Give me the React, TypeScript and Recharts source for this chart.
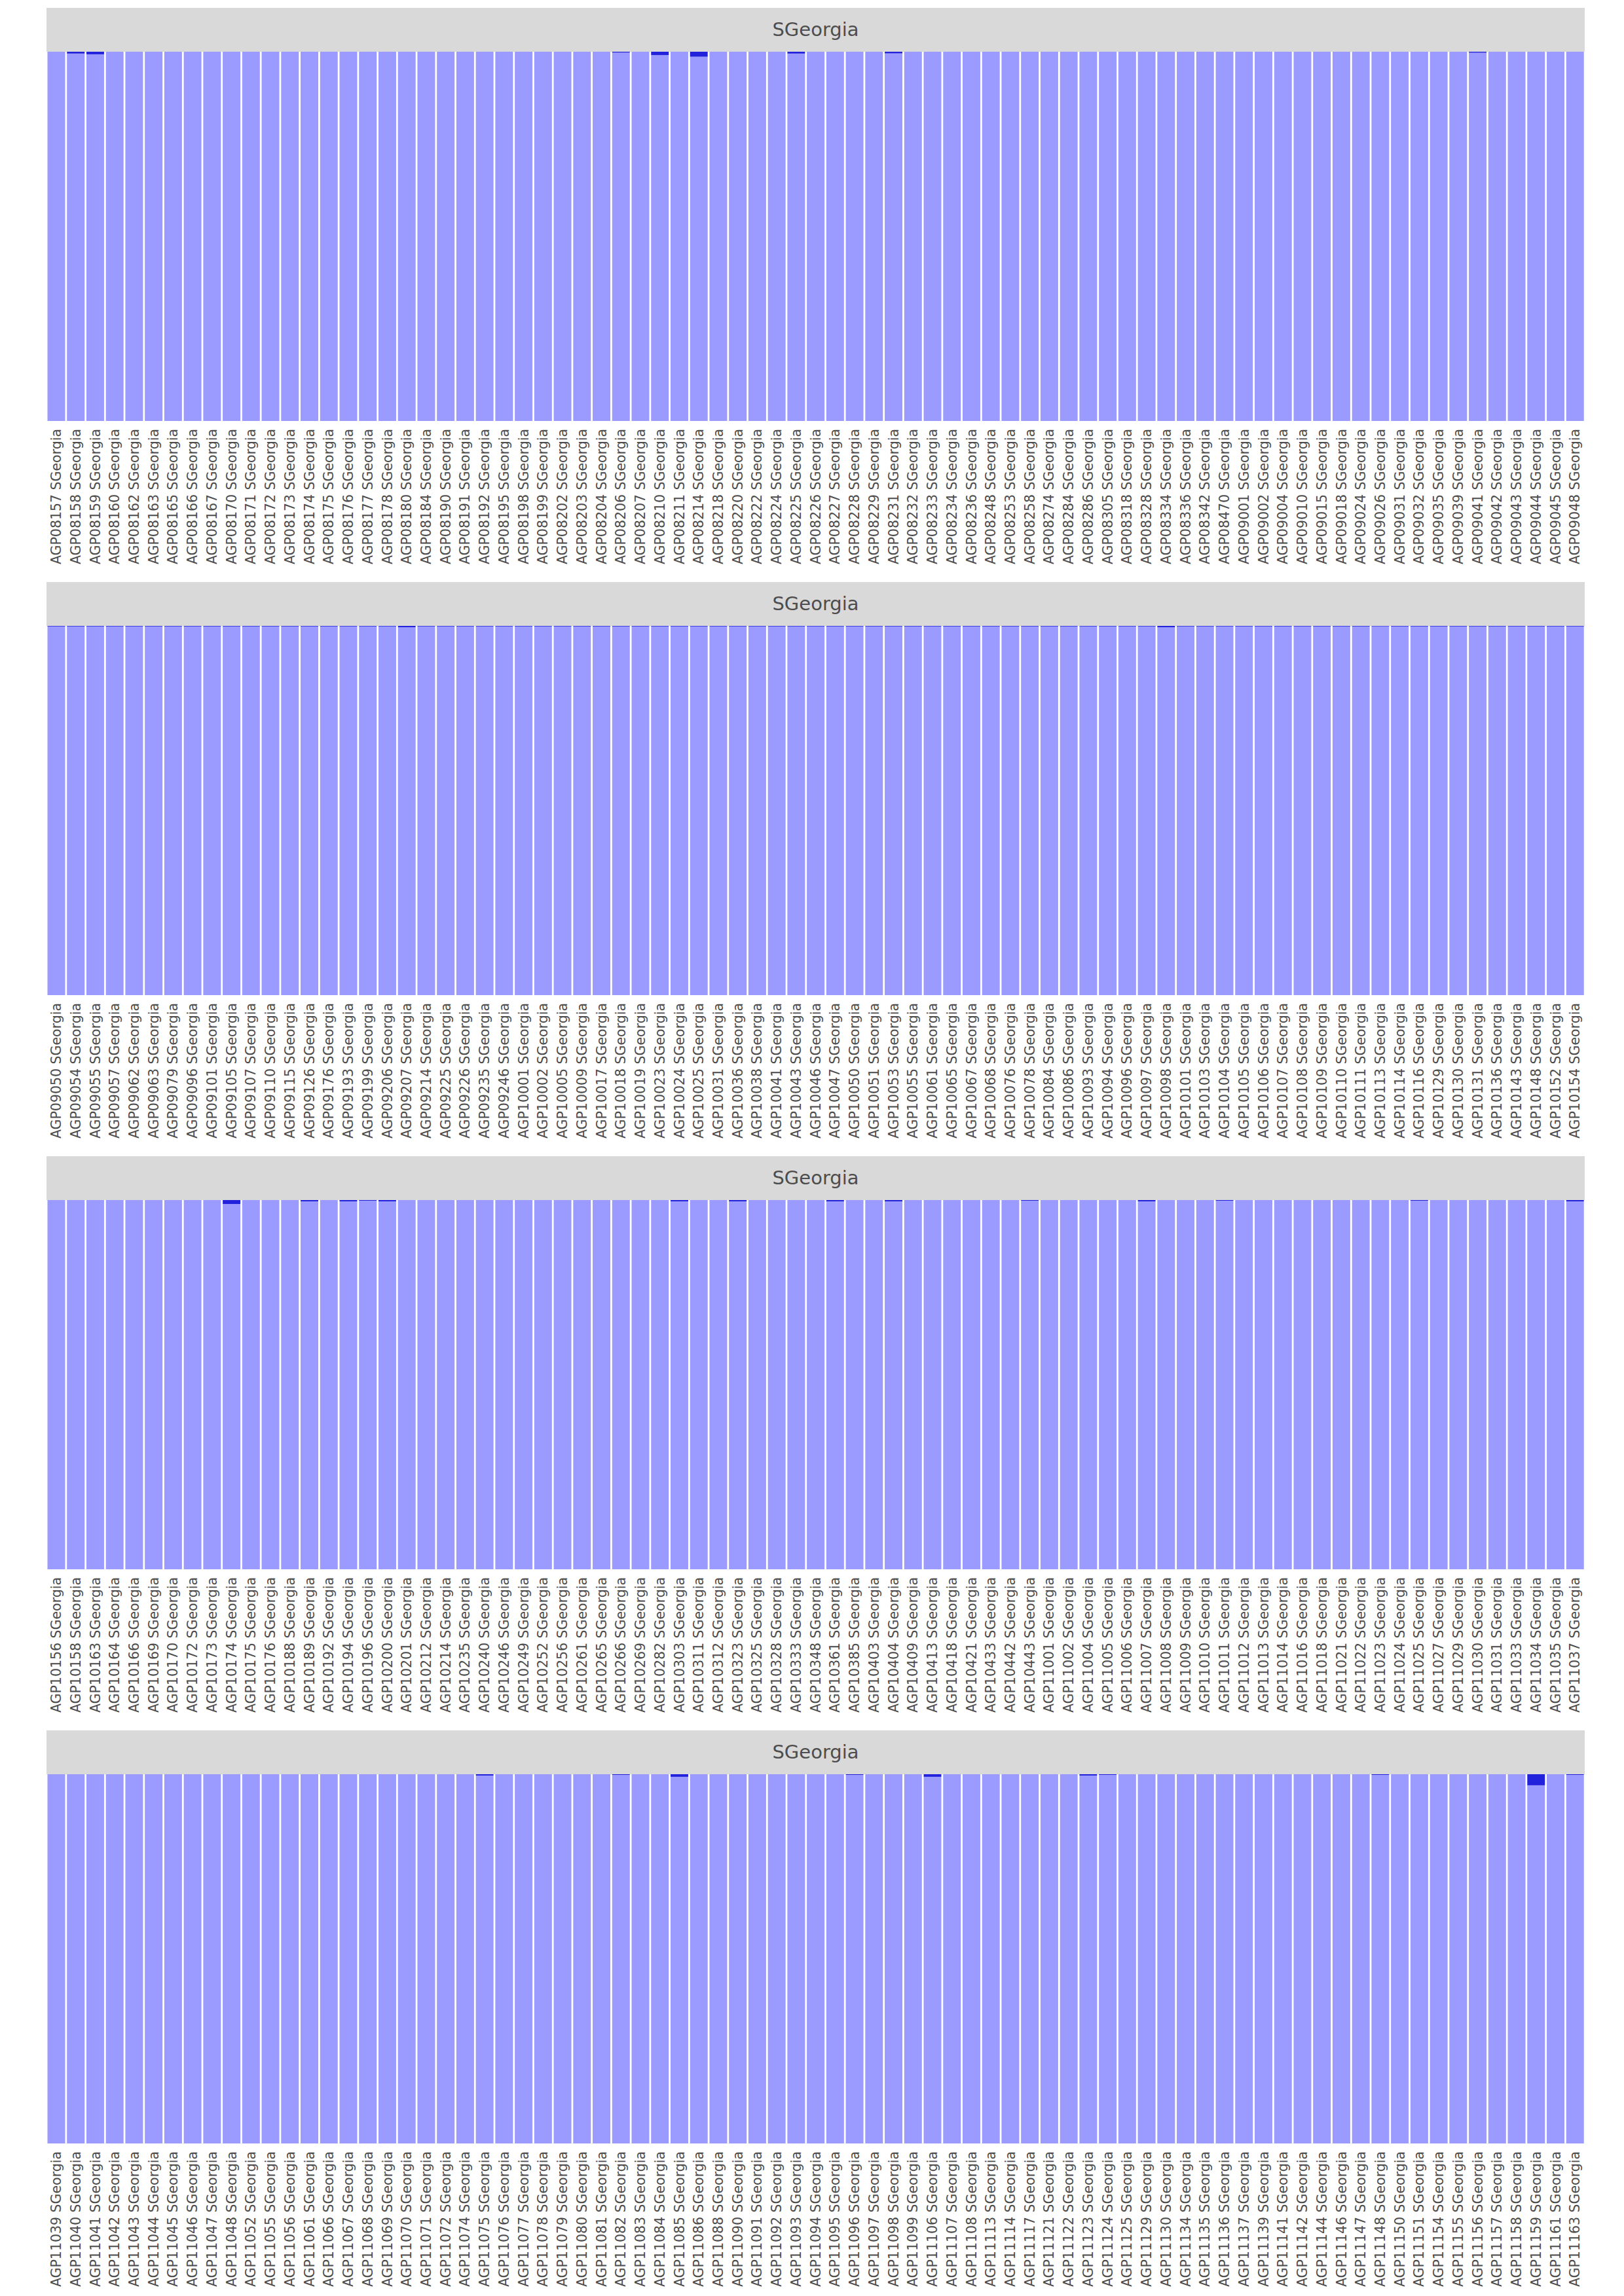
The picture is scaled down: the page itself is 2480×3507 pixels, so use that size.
import React from "react";
import { Bar, BarChart, XAxis, YAxis } from "recharts";

const region = "SGeorgia";

const ids1 = ["AGP08157","AGP08158","AGP08159","AGP08160","AGP08162","AGP08163","AGP08165","AGP08166","AGP08167","AGP08170","AGP08171","AGP08172","AGP08173","AGP08174","AGP08175","AGP08176","AGP08177","AGP08178","AGP08180","AGP08184","AGP08190","AGP08191","AGP08192","AGP08195","AGP08198","AGP08199","AGP08202","AGP08203","AGP08204","AGP08206","AGP08207","AGP08210","AGP08211","AGP08214","AGP08218","AGP08220","AGP08222","AGP08224","AGP08225","AGP08226","AGP08227","AGP08228","AGP08229","AGP08231","AGP08232","AGP08233","AGP08234","AGP08236","AGP08248","AGP08253","AGP08258","AGP08274","AGP08284","AGP08286","AGP08305","AGP08318","AGP08328","AGP08334","AGP08336","AGP08342","AGP08470","AGP09001","AGP09002","AGP09004","AGP09010","AGP09015","AGP09018","AGP09024","AGP09026","AGP09031","AGP09032","AGP09035","AGP09039","AGP09041","AGP09042","AGP09043","AGP09044","AGP09045","AGP09048"];
const ids2 = ["AGP09050","AGP09054","AGP09055","AGP09057","AGP09062","AGP09063","AGP09079","AGP09096","AGP09101","AGP09105","AGP09107","AGP09110","AGP09115","AGP09126","AGP09176","AGP09193","AGP09199","AGP09206","AGP09207","AGP09214","AGP09225","AGP09226","AGP09235","AGP09246","AGP10001","AGP10002","AGP10005","AGP10009","AGP10017","AGP10018","AGP10019","AGP10023","AGP10024","AGP10025","AGP10031","AGP10036","AGP10038","AGP10041","AGP10043","AGP10046","AGP10047","AGP10050","AGP10051","AGP10053","AGP10055","AGP10061","AGP10065","AGP10067","AGP10068","AGP10076","AGP10078","AGP10084","AGP10086","AGP10093","AGP10094","AGP10096","AGP10097","AGP10098","AGP10101","AGP10103","AGP10104","AGP10105","AGP10106","AGP10107","AGP10108","AGP10109","AGP10110","AGP10111","AGP10113","AGP10114","AGP10116","AGP10129","AGP10130","AGP10131","AGP10136","AGP10143","AGP10148","AGP10152","AGP10154"];
const ids3 = ["AGP10156","AGP10158","AGP10163","AGP10164","AGP10166","AGP10169","AGP10170","AGP10172","AGP10173","AGP10174","AGP10175","AGP10176","AGP10188","AGP10189","AGP10192","AGP10194","AGP10196","AGP10200","AGP10201","AGP10212","AGP10214","AGP10235","AGP10240","AGP10246","AGP10249","AGP10252","AGP10256","AGP10261","AGP10265","AGP10266","AGP10269","AGP10282","AGP10303","AGP10311","AGP10312","AGP10323","AGP10325","AGP10328","AGP10333","AGP10348","AGP10361","AGP10385","AGP10403","AGP10404","AGP10409","AGP10413","AGP10418","AGP10421","AGP10433","AGP10442","AGP10443","AGP11001","AGP11002","AGP11004","AGP11005","AGP11006","AGP11007","AGP11008","AGP11009","AGP11010","AGP11011","AGP11012","AGP11013","AGP11014","AGP11016","AGP11018","AGP11021","AGP11022","AGP11023","AGP11024","AGP11025","AGP11027","AGP11029","AGP11030","AGP11031","AGP11033","AGP11034","AGP11035","AGP11037"];
const ids4 = ["AGP11039","AGP11040","AGP11041","AGP11042","AGP11043","AGP11044","AGP11045","AGP11046","AGP11047","AGP11048","AGP11052","AGP11055","AGP11056","AGP11061","AGP11066","AGP11067","AGP11068","AGP11069","AGP11070","AGP11071","AGP11072","AGP11074","AGP11075","AGP11076","AGP11077","AGP11078","AGP11079","AGP11080","AGP11081","AGP11082","AGP11083","AGP11084","AGP11085","AGP11086","AGP11088","AGP11090","AGP11091","AGP11092","AGP11093","AGP11094","AGP11095","AGP11096","AGP11097","AGP11098","AGP11099","AGP11106","AGP11107","AGP11108","AGP11113","AGP11114","AGP11117","AGP11121","AGP11122","AGP11123","AGP11124","AGP11125","AGP11129","AGP11130","AGP11134","AGP11135","AGP11136","AGP11137","AGP11139","AGP11141","AGP11142","AGP11144","AGP11146","AGP11147","AGP11148","AGP11150","AGP11151","AGP11154","AGP11155","AGP11156","AGP11157","AGP11158","AGP11159","AGP11161","AGP11163"];

// second ancestry component (dark)
const dark1 = [
  0, 0.005, 0.007, 0, 0, 0, 0, 0, 0, 0,
  0, 0, 0, 0, 0, 0, 0, 0, 0, 0,
  0, 0, 0, 0, 0, 0, 0, 0, 0, 0.0025,
  0, 0.009, 0, 0.0135, 0, 0, 0, 0, 0.005, 0,
  0, 0, 0, 0.0045, 0, 0, 0, 0, 0, 0,
  0, 0, 0, 0, 0, 0, 0, 0, 0, 0,
  0, 0, 0, 0, 0, 0, 0, 0, 0, 0,
  0, 0, 0, 0.0027, 0, 0, 0, 0, 0,
];
const dark2 = [
  0.0015, 0.0015, 0.0015, 0.0015, 0.0015, 0.0015, 0.0015, 0.0015, 0.0015, 0.0015,
  0.0015, 0.0015, 0.0015, 0.0015, 0.0015, 0.0015, 0.0015, 0.0015, 0.0035, 0.0015,
  0.0015, 0.0015, 0.0015, 0.0015, 0.0015, 0.0015, 0.0015, 0.0015, 0.0015, 0.0015,
  0.0015, 0.0015, 0.0015, 0.0015, 0.0015, 0.0015, 0.0015, 0.0015, 0.0015, 0.0015,
  0.0015, 0.0015, 0.0015, 0.0015, 0.0015, 0.0015, 0.0015, 0.0015, 0.0015, 0.0015,
  0.0015, 0.0015, 0.0015, 0.0015, 0.0015, 0.0015, 0.0015, 0.0035, 0.0015, 0.0015,
  0.0015, 0.0015, 0.0015, 0.0015, 0.0015, 0.0015, 0.0015, 0.0015, 0.0015, 0.0015,
  0.0015, 0.0015, 0.0015, 0.0015, 0.0015, 0.0015, 0.0015, 0.0015, 0.0015,
];
const dark3 = [
  0, 0, 0, 0, 0, 0, 0, 0, 0, 0.0106,
  0, 0, 0, 0.0035, 0, 0.0035, 0.0018, 0.0035, 0, 0,
  0, 0, 0, 0, 0, 0, 0, 0, 0, 0,
  0, 0, 0.0035, 0, 0, 0.0035, 0, 0, 0, 0,
  0.0035, 0, 0, 0.0035, 0, 0, 0, 0, 0, 0,
  0.0018, 0, 0, 0, 0, 0, 0.0035, 0, 0, 0,
  0.0018, 0, 0, 0, 0, 0, 0, 0, 0, 0,
  0.0018, 0, 0, 0, 0, 0, 0, 0, 0.0035,
];
const dark4 = [
  0, 0, 0, 0, 0, 0, 0, 0, 0, 0,
  0, 0, 0, 0, 0, 0, 0, 0, 0, 0,
  0, 0, 0.0035, 0, 0, 0, 0, 0, 0, 0.0018,
  0, 0, 0.007, 0, 0, 0, 0, 0, 0, 0,
  0, 0.0018, 0, 0, 0, 0.007, 0, 0, 0, 0,
  0, 0, 0, 0.0035, 0.0018, 0, 0, 0, 0, 0,
  0, 0, 0, 0, 0, 0, 0, 0, 0.0018, 0,
  0, 0, 0, 0, 0, 0, 0.03, 0, 0.0018,
];

const panels = [
  { ids: ids1, dark: dark1 },
  { ids: ids2, dark: dark2 },
  { ids: ids3, dark: dark3 },
  { ids: ids4, dark: dark4 },
];

const LIGHT = "#9B9BFF";
const DARK = "#2222DD";
const TEXT = "#4D4D4D";
const FONT = "'DejaVu Sans', sans-serif";

const PANEL_X = 71;
const PANEL_W = 2349;
const STRIP_TOP = 12;
const STRIP_H = 67;
const PLOT_H = 564;
const STEP = 877;

function SampleTick(props: any) {
  const { x, y, payload } = props;
  return (
    <text
      transform={`translate(${x},${y + 12}) rotate(-90)`}
      textAnchor="end"
      dy="0.35em"
      fontSize={20.5}
      fontFamily={FONT}
      fill={TEXT}
    >
      {payload.value}
    </text>
  );
}

function Panel({ ids, dark, index }: { ids: string[]; dark: number[]; index: number }) {
  const rows = ids.map((id, i) => ({
    name: `${id} ${region}`,
    k1: 1 - dark[i],
    k2: dark[i],
  }));
  const top = STRIP_TOP + index * STEP;
  return (
    <>
      <div
        style={{
          position: "absolute",
          left: PANEL_X,
          top,
          width: PANEL_W,
          height: STRIP_H,
          background: "#D9D9D9",
          color: TEXT,
          fontFamily: FONT,
          fontSize: 29,
          lineHeight: `${STRIP_H}px`,
          textAlign: "center",
        }}
      >
        {region}
      </div>
      <div style={{ position: "absolute", left: PANEL_X, top: top + STRIP_H }}>
        <BarChart
          width={PANEL_W}
          height={PLOT_H + 230}
          data={rows}
          margin={{ top: 0, right: 0, bottom: 0, left: 0 }}
          barCategoryGap="5%"
        >
          <XAxis
            dataKey="name"
            interval={0}
            axisLine={false}
            tickLine={false}
            tickSize={0}
            tickMargin={0}
            height={230}
            tick={SampleTick}
          />
          <YAxis hide width={0} domain={[0, 1]} />
          <Bar dataKey="k1" stackId="q" fill={LIGHT} isAnimationActive={false} />
          <Bar dataKey="k2" stackId="q" fill={DARK} isAnimationActive={false} />
        </BarChart>
      </div>
    </>
  );
}

export default function App() {
  return (
    <div
      style={{
        position: "absolute",
        left: 0,
        top: 0,
        width: 2480,
        height: 3507,
        background: "#FFFFFF",
      }}
    >
      {panels.map((p, i) => (
        <Panel key={i} ids={p.ids} dark={p.dark} index={i} />
      ))}
    </div>
  );
}
